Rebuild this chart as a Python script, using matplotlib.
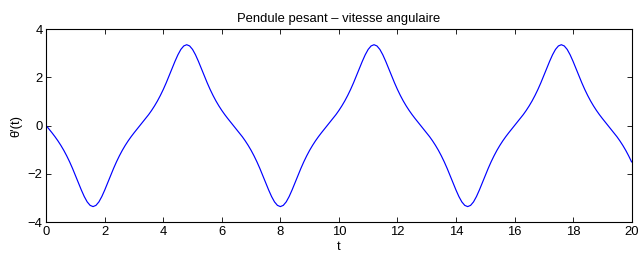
import numpy as np
import matplotlib
matplotlib.use("Agg")
import matplotlib.pyplot as plt

plt.rcParams['font.family'] = ['Liberation Sans', 'DejaVu Sans']

# time grid (s) and angular velocity
t = np.linspace(0.0, 20.0, 201)
omega = [
    0.0, -0.148, -0.299, -0.458, -0.629, -0.816, -1.021, -1.249, -1.499, -1.773,
    -2.065, -2.366, -2.663, -2.934, -3.155, -3.299, -3.350, -3.299, -3.155, -2.934,
    -2.663, -2.366, -2.065, -1.773, -1.499, -1.249, -1.021, -0.816, -0.629, -0.458,
    -0.299, -0.148, 0.0, 0.148, 0.299, 0.458, 0.629, 0.816, 1.021, 1.249,
    1.499, 1.773, 2.065, 2.366, 2.663, 2.934, 3.155, 3.299, 3.350, 3.299,
    3.155, 2.934, 2.663, 2.366, 2.065, 1.773, 1.499, 1.249, 1.021, 0.816,
    0.629, 0.458, 0.299, 0.148,
    0.0, -0.148, -0.299, -0.458, -0.629, -0.816, -1.021, -1.249, -1.499, -1.773,
    -2.065, -2.366, -2.663, -2.934, -3.155, -3.299, -3.350, -3.299, -3.155, -2.934,
    -2.663, -2.366, -2.065, -1.773, -1.499, -1.249, -1.021, -0.816, -0.629, -0.458,
    -0.299, -0.148, 0.0, 0.148, 0.299, 0.458, 0.629, 0.816, 1.021, 1.249,
    1.499, 1.773, 2.065, 2.366, 2.663, 2.934, 3.155, 3.299, 3.350, 3.299,
    3.155, 2.934, 2.663, 2.366, 2.065, 1.773, 1.499, 1.249, 1.021, 0.816,
    0.629, 0.458, 0.299, 0.148,
    0.0, -0.148, -0.299, -0.458, -0.629, -0.816, -1.021, -1.249, -1.499, -1.773,
    -2.065, -2.366, -2.663, -2.934, -3.155, -3.299, -3.350, -3.299, -3.155, -2.934,
    -2.663, -2.366, -2.065, -1.773, -1.499, -1.249, -1.021, -0.816, -0.629, -0.458,
    -0.299, -0.148, 0.0, 0.148, 0.299, 0.458, 0.629, 0.816, 1.021, 1.249,
    1.499, 1.773, 2.065, 2.366, 2.663, 2.934, 3.155, 3.299, 3.350, 3.299,
    3.155, 2.934, 2.663, 2.366, 2.065, 1.773, 1.499, 1.249, 1.021, 0.816,
    0.629, 0.458, 0.299, 0.148,
    0.0, -0.148, -0.299, -0.458, -0.629, -0.816, -1.021, -1.249, -1.499,
]

x_ticks = [0, 2, 4, 6, 8, 10, 12, 14, 16, 18, 20]
y_ticks = [-4, -2, 0, 2, 4]
title = "Pendule pesant \u2013 vitesse angulaire"
xlabel = "t"
ylabel = "\u03b8'(t)"

fs = 9.4
fig = plt.figure(figsize=(6.41, 2.54), dpi=100)
ax = fig.add_axes([0.0721, 0.1248, 0.9132, 0.7610])
ax.plot(t, omega, color=(0, 0, 1), lw=0.85)
ax.set_xlim(0, 20)
ax.set_ylim(-4, 4)
ax.set_xticks(x_ticks)
ax.set_yticks(y_ticks)
ax.tick_params(direction='in', length=3.6, width=0.6, top=True, right=True,
               labelsize=fs, pad=2.5, colors='black')
for s in ax.spines.values():
    s.set_linewidth(0.8)
ax.set_title(title, fontsize=fs, pad=5)
ax.set_xlabel(xlabel, fontsize=fs, labelpad=2)
ax.set_ylabel(ylabel, fontsize=fs, labelpad=4)
fig.savefig("out.png", dpi=100)
